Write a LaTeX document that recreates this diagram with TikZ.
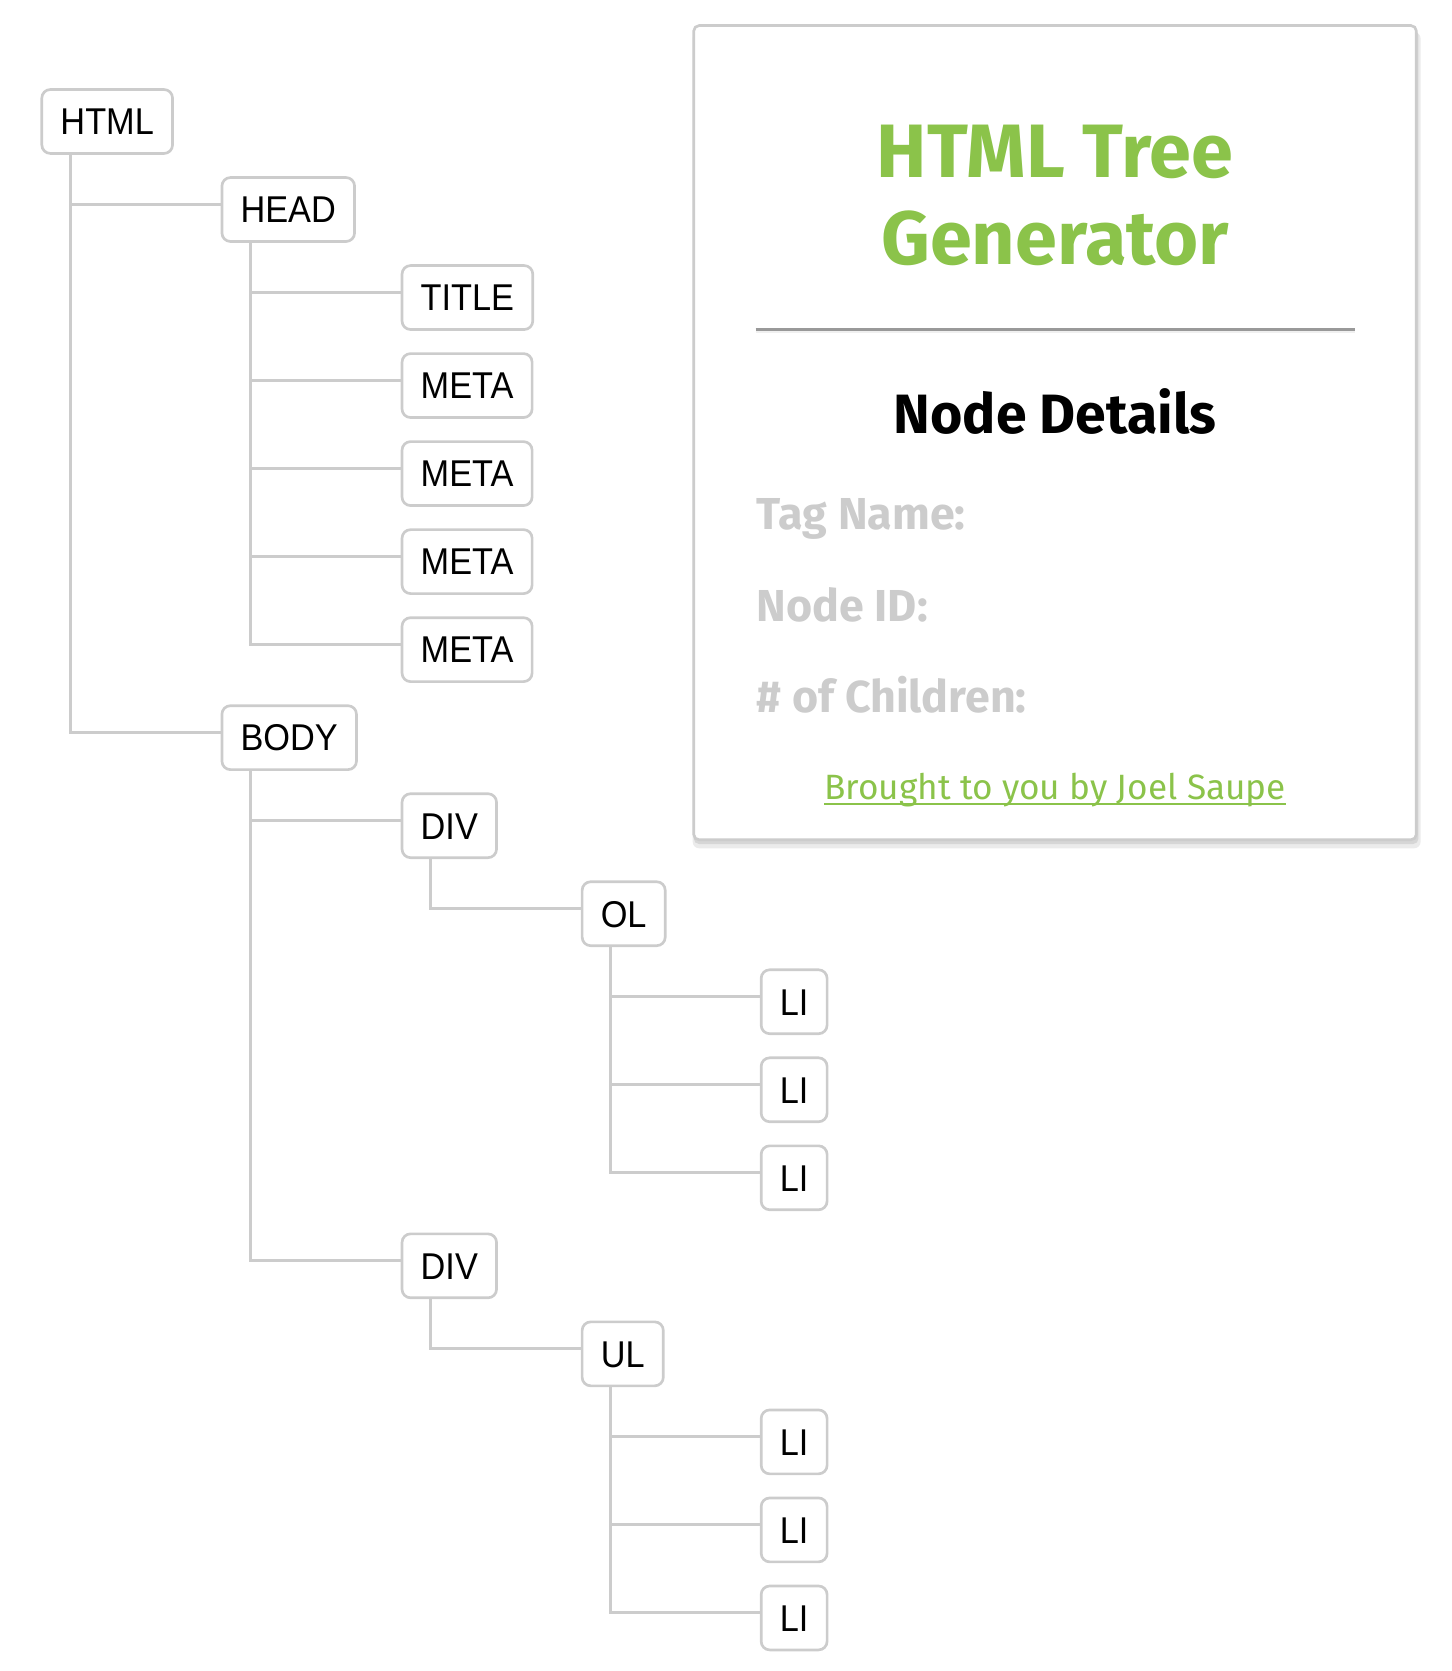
\documentclass[tikz,border=0pt]{standalone}
\usepackage{fontspec}
\setmainfont{Fira Sans}
\newfontfamily\tagfont[FakeStretch=0.92]{Liberation Sans}
\usetikzlibrary{calc}

\definecolor{linegray}{HTML}{CCCCCC}
\definecolor{leafgreen}{HTML}{8BC34A}
\definecolor{rulegray}{HTML}{999999}

\tikzset{
  tag/.style={draw=linegray, line width=2.5pt, rounded corners=8pt, fill=white, anchor=west,
    minimum height=60pt, inner xsep=17.5pt, text height=25pt, text depth=0pt,
    font=\tagfont\fontsize{35}{40}\selectfont},
  branch/.style={draw=linegray, line width=2.5pt},
  field/.style={anchor=base west, inner sep=0pt, text=linegray, font=\fontsize{42}{46}\selectfont\bfseries}
}

\begin{document}
\begin{tikzpicture}[x=1pt, y=1pt]
    \useasboundingbox (0,0) rectangle (1362,-1568);

    \node[tag] (html)  at (38,-114)    {HTML};
    \node[tag] (head)  at (207,-196.6) {HEAD};
    \node[tag] (title) at (376,-279.2) {TITLE};
    \node[tag] (metaA) at (376,-361.8) {META};
    \node[tag] (metaB) at (376,-444.4) {META};
    \node[tag] (metaC) at (376,-527)   {META};
    \node[tag] (metaD) at (376,-609.6) {META};
    \node[tag] (body)  at (207,-692.2) {BODY};
    \node[tag] (divA)  at (376,-774.8) {DIV};
    \node[tag] (ol)    at (545,-857.4) {OL};
    \node[tag] (liA)   at (713,-940)   {LI};
    \node[tag] (liB)   at (713,-1022.6) {LI};
    \node[tag] (liC)   at (713,-1105.2) {LI};
    \node[tag] (divB)  at (376,-1187.8) {DIV};
    \node[tag] (ul)    at (545,-1270.4) {UL};
    \node[tag] (liD)   at (713,-1353)   {LI};
    \node[tag] (liE)   at (713,-1435.6) {LI};
    \node[tag] (liF)   at (713,-1518.2) {LI};

    \draw[branch]
    ($(html.south west)+(28,0)$) |- ($(head.west)+(0,5)$)
    ($(html.south west)+(28,0)$) |- ($(body.west)+(0,5)$)
    ($(head.south west)+(28,0)$) |- ($(title.west)+(0,5)$)
    ($(head.south west)+(28,0)$) |- ($(metaA.west)+(0,5)$)
    ($(head.south west)+(28,0)$) |- ($(metaB.west)+(0,5)$)
    ($(head.south west)+(28,0)$) |- ($(metaC.west)+(0,5)$)
    ($(head.south west)+(28,0)$) |- ($(metaD.west)+(0,5)$)
    ($(body.south west)+(28,0)$) |- ($(divA.west)+(0,5)$)
    ($(body.south west)+(28,0)$) |- ($(divB.west)+(0,5)$)
    ($(divA.south west)+(28,0)$) |- ($(ol.west)+(0,5)$)
    ($(ol.south west)+(28,0)$) |- ($(liA.west)+(0,5)$)
    ($(ol.south west)+(28,0)$) |- ($(liB.west)+(0,5)$)
    ($(ol.south west)+(28,0)$) |- ($(liC.west)+(0,5)$)
    ($(divB.south west)+(28,0)$) |- ($(ul.west)+(0,5)$)
    ($(ul.south west)+(28,0)$) |- ($(liD.west)+(0,5)$)
    ($(ul.south west)+(28,0)$) |- ($(liE.west)+(0,5)$)
    ($(ul.south west)+(28,0)$) |- ($(liF.west)+(0,5)$)
    ;

    % details panel
    \fill[black!8, rounded corners=6pt] (650,-30) rectangle (1333,-796);
    \fill[black!16, rounded corners=5pt] (651,-28) rectangle (1331,-792);
    \draw[linegray, line width=2.5pt, fill=white, rounded corners=5pt] (651,-24) rectangle (1329,-788);

    \node[anchor=base, text=leafgreen, font=\fontsize{71}{81}\selectfont\bfseries] (heading) at (990,-167) {HTML Tree};
    \node[anchor=base, text=leafgreen, font=\fontsize{71}{81}\selectfont\bfseries] (subheading) at (990,-248) {Generator};
    \draw[rulegray, line width=2.5pt] (709,-309) -- (1271,-309);
    \draw[black!6, line width=1.5pt] (709,-311.5) -- (1271,-311.5);

    \node[anchor=base, font=\fontsize{52}{58}\selectfont\bfseries] (details) at (990,-407) {Node Details};
    \node[field] (tagname)  at (710,-497) {Tag Name:};
    \node[field] (nodeid)   at (710,-583) {Node ID:};
    \node[field] (children) at (710,-669) {\# of Children:};

    \node[anchor=base, inner sep=0pt, text=leafgreen, font=\fontsize{33}{40}\selectfont] (credit) at (990,-750) {Brought to you by Joel Saupe};
    \draw[leafgreen, line width=2pt] ($(credit.base west)+(0,-4.5)$) -- ($(credit.base east)+(0,-4.5)$);

\end{tikzpicture}
\end{document}
